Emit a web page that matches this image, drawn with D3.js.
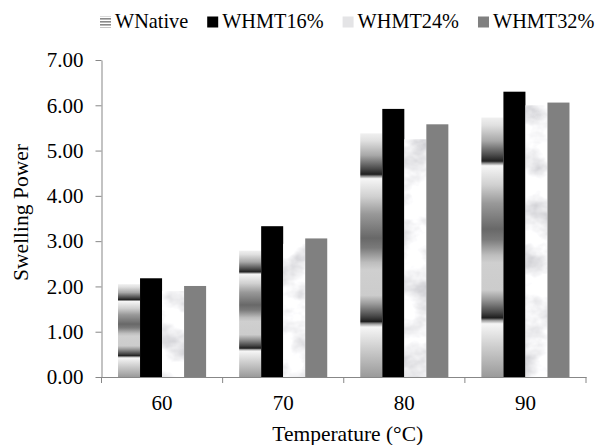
<!DOCTYPE html>
<html>
<head>
<meta charset="utf-8">
<script src="https://cdn.jsdelivr.net/npm/d3@7/dist/d3.min.js"></script>
<style>html, body { margin: 0; padding: 0; background: #fff; }</style>
</head>
<body>
<svg id="chart" width="599" height="445"></svg>
<script>
const categories = ["60", "70", "80", "90"];
const seriesNames = ["WNative", "WHMT16%", "WHMT24%", "WHMT32%"];
const wNative = [2.05, 2.79, 5.38, 5.73];
const whmt16 = [2.18, 3.33, 5.92, 6.30];
const whmt24 = [1.90, 2.94, 5.25, 6.00];
const whmt32 = [2.01, 3.06, 5.58, 6.06];
const yTicks = [0, 1, 2, 3, 4, 5, 6, 7];
const xTitle = "Temperature (°C)";
const yTitle = "Swelling Power";

const seriesValues = [wNative, whmt16, whmt24, whmt32];
const FONT = "Liberation Serif";

const svg = d3.select("#chart");
const defs = svg.append("defs");

// Chrome-like banded gradient for WNative
const grad = defs.append("linearGradient").attr("id", "chrome")
  .attr("x1", 0).attr("y1", 0).attr("x2", 0).attr("y2", 1);
[
  [0, "#f0f0f0"], [0.03, "#e0e0e0"], [0.09, "#a8a8a8"], [0.145, "#4a4a4a"],
  [0.168, "#202020"], [0.176, "#8a8a8a"], [0.186, "#f6f6f6"],
  [0.26, "#d0d0d0"], [0.33, "#999999"], [0.43, "#686868"], [0.47, "#7a7a7a"],
  [0.53, "#bdbdbd"], [0.56, "#cfcfcf"], [0.665, "#cccccc"], [0.70, "#9a9a9a"],
  [0.75, "#484848"], [0.772, "#1e1e1e"], [0.782, "#9c9c9c"], [0.795, "#f6f6f6"],
  [0.88, "#cfcfcf"], [1, "#9a9a9a"]
].forEach(([o, c]) => grad.append("stop").attr("offset", o).attr("stop-color", c));

// Marble texture for WHMT24%
const marble = defs.append("filter").attr("id", "marble")
  .attr("x", 0).attr("y", 0).attr("width", 1).attr("height", 1);
marble.append("feTurbulence").attr("type", "fractalNoise")
  .attr("baseFrequency", "0.03 0.04").attr("numOctaves", 4).attr("seed", 11).attr("result", "noise");
marble.append("feColorMatrix").attr("in", "noise").attr("type", "matrix")
  .attr("values", "0.85 0 0 0 0.47  0.85 0 0 0 0.47  0.8 0 0 0 0.51  0 0 0 0 1")
  .attr("result", "tex");
marble.append("feComposite").attr("in", "tex").attr("in2", "SourceGraphic").attr("operator", "in");

// Legend stripe pattern for WNative icon
const stripes = defs.append("pattern").attr("id", "stripes")
  .attr("patternUnits", "userSpaceOnUse").attr("width", 12).attr("height", 3);
stripes.append("rect").attr("width", 12).attr("height", 3).attr("fill", "#ffffff");
stripes.append("rect").attr("width", 12).attr("height", 1.6).attr("fill", "#8a8a8a");

const fills = ["url(#chrome)", "#000000", "#e4e4e8", "#808080"];
const legendFills = ["url(#stripes)", "#000000", "#e4e4e6", "#808080"];

const margin = { left: 101.5, right: 586, top: 60, bottom: 377 };

const x0 = d3.scaleBand().domain(categories).range([margin.left, margin.right]).padding(0);
const x1 = d3.scaleBand().domain(seriesNames).range([0, x0.bandwidth()])
  .paddingInner(0).paddingOuter(0.75);
const y = d3.scaleLinear().domain([0, 7]).range([margin.bottom, margin.top]);

const axisColor = "#878787";

// Bars
seriesNames.forEach((name, si) => {
  const g = svg.append("g");
  const rects = g.selectAll("rect").data(categories).join("rect")
    .attr("x", c => x0(c) + x1(name))
    .attr("y", (c, i) => y(seriesValues[si][i]))
    .attr("width", x1.bandwidth())
    .attr("height", (c, i) => y(0) - y(seriesValues[si][i]))
    .attr("fill", fills[si]);
  if (si === 2) rects.attr("filter", "url(#marble)");
});

// Y axis
const yAxis = d3.axisLeft(y).tickValues(yTicks).tickSize(6).tickSizeOuter(0)
  .tickPadding(12).tickFormat(d3.format(".2f"));
const yg = svg.append("g").attr("transform", `translate(${margin.left},0)`).call(yAxis);
yg.select(".domain").attr("stroke", axisColor);
yg.selectAll(".tick line").attr("stroke", axisColor);
yg.selectAll(".tick text").attr("fill", "#000")
  .style("font-family", FONT).style("font-size", "21px");

// X axis
const xAxis = d3.axisBottom(x0).tickSize(0).tickSizeOuter(0).tickPadding(18);
const xg = svg.append("g").attr("transform", `translate(0,${margin.bottom})`).call(xAxis);
xg.select(".domain").attr("stroke", axisColor);
xg.selectAll(".tick text").attr("fill", "#000")
  .style("font-family", FONT).style("font-size", "21px");
const edges = categories.map(c => x0(c)).concat([x0(categories[categories.length - 1]) + x0.bandwidth()]);
xg.selectAll("line.edge").data(edges).join("line").attr("class", "edge")
  .attr("x1", d => d).attr("x2", d => d).attr("y1", 0).attr("y2", 6)
  .attr("stroke", axisColor);

// Axis titles
svg.append("text").attr("x", (margin.left + margin.right) / 2 + 4).attr("y", 441)
  .attr("text-anchor", "middle").style("font-family", FONT).style("font-size", "21.5px")
  .attr("fill", "#000").text(xTitle);
svg.append("text").attr("transform", `translate(28,${(margin.top + margin.bottom) / 2 - 6}) rotate(-90)`)
  .attr("text-anchor", "middle").style("font-family", FONT).style("font-size", "21.5px")
  .attr("fill", "#000").text(yTitle);

// Legend
const legend = svg.append("g");
let lx = 100;
seriesNames.forEach((name, i) => {
  legend.append("rect").attr("x", lx).attr("y", 16.5).attr("width", 11).attr("height", 11)
    .attr("fill", legendFills[i]);
  const t = legend.append("text").attr("x", lx + 15).attr("y", 27.5)
    .style("font-family", FONT).style("font-size", "20.3px").attr("fill", "#000").text(name);
  lx += 15 + t.node().getComputedTextLength() + 19;
});
</script>
</body>
</html>
